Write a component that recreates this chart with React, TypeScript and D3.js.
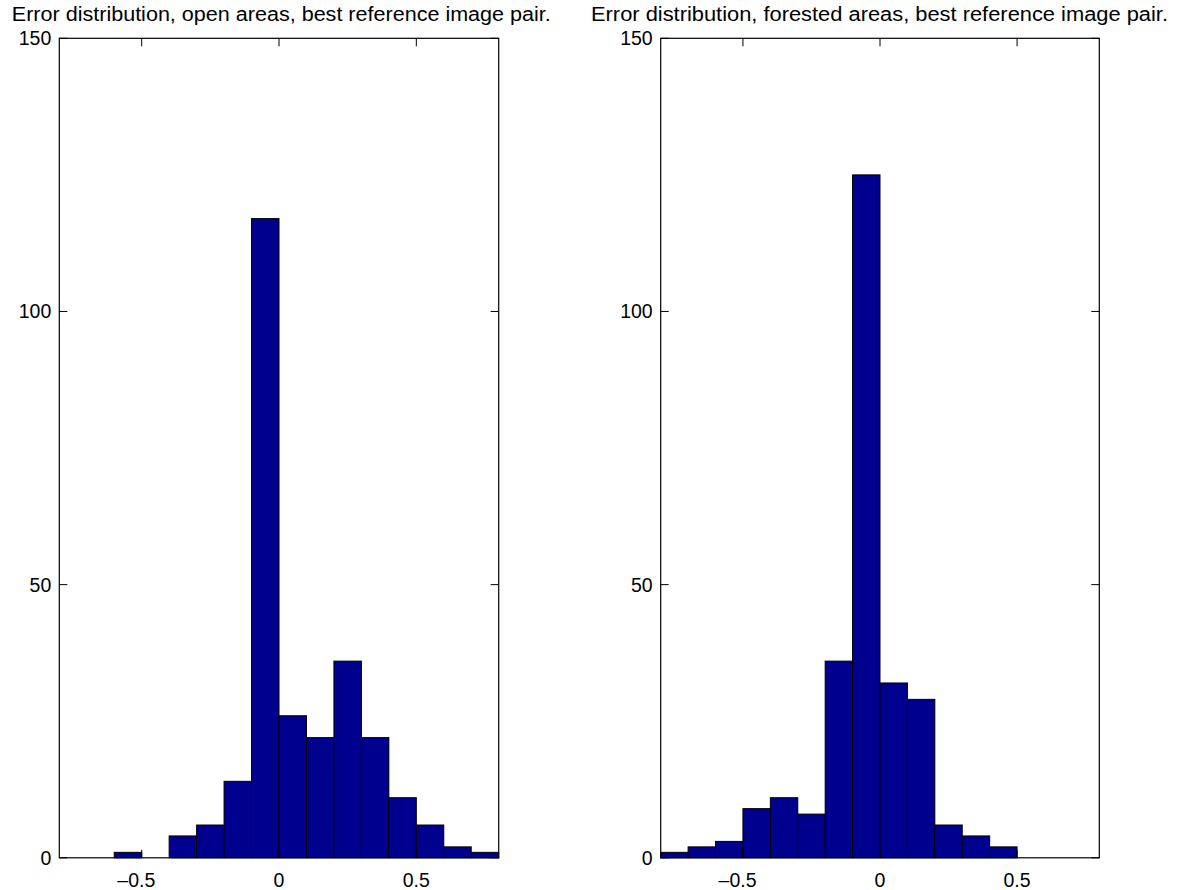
import React from "react";
import * as d3 from "d3";

// Histogram bins: lower edge of each 0.1-wide bin and its count
const binWidth = 0.1;
const openBinStarts = [-0.6, -0.5, -0.4, -0.3, -0.2, -0.1, 0, 0.1, 0.2, 0.3, 0.4, 0.5, 0.6, 0.7];
const openCounts = [1, 0, 4, 6, 14, 117, 26, 22, 36, 22, 11, 6, 2, 1];
const forestBinStarts = [-0.8, -0.7, -0.6, -0.5, -0.4, -0.3, -0.2, -0.1, 0, 0.1, 0.2, 0.3, 0.4];
const forestCounts = [1, 2, 3, 9, 11, 8, 36, 125, 32, 29, 6, 4, 2];

const xTicks = [-0.5, 0, 0.5];
const yTicks = [0, 50, 100, 150];
const xDomain: [number, number] = [-0.8, 0.8];
const yDomain: [number, number] = [0, 150];

const titles = [
  "Error distribution, open areas, best reference image pair.",
  "Error distribution, forested areas, best reference image pair.",
];

const W = 1184;
const H = 890;
const FONT = "'Liberation Sans', Arial, Helvetica, sans-serif";
const FS = 19.5;
const BAR_FILL = "#00008f";
const TICK = 8;

type PanelProps = {
  left: number;
  right: number;
  top: number;
  bottom: number;
  starts: number[];
  counts: number[];
  title: string;
  titleX: number;
  titleWidth: number;
};

function Panel({ left, right, top, bottom, starts, counts, title, titleX, titleWidth }: PanelProps) {
  const x = d3.scaleLinear().domain(xDomain).range([left, right]);
  const y = d3.scaleLinear().domain(yDomain).range([bottom, top]);
  // half width of a "0.5"-style label; the minus sign hangs to its left
  const absHalf = 0.695 * FS;
  return (
    <g>
      <text
        x={titleX}
        y={20.7}
        textAnchor="middle"
        fontFamily={FONT}
        fontSize={FS}
        textLength={titleWidth}
        lengthAdjust="spacingAndGlyphs"
        fill="#000"
      >
        {title}
      </text>
      {starts.map((s, i) =>
        counts[i] > 0 ? (
          <rect
            key={i}
            x={x(s)}
            y={y(counts[i])}
            width={x(s + binWidth) - x(s)}
            height={y(0) - y(counts[i])}
            fill={BAR_FILL}
            stroke="#000"
            strokeWidth={1}
          />
        ) : null
      )}
      <rect x={left} y={top} width={right - left} height={bottom - top} fill="none" stroke="#000" strokeWidth={1.2} />
      {xTicks.map((t) => (
        <g key={"x" + t}>
          <line x1={x(t)} x2={x(t)} y1={bottom} y2={bottom - TICK} stroke="#000" strokeWidth={1} />
          <line x1={x(t)} x2={x(t)} y1={top} y2={top + TICK} stroke="#000" strokeWidth={1} />
          {t < 0 ? (
            <text x={x(t) + absHalf} y={bottom + 28.7} textAnchor="end" fontFamily={FONT} fontSize={FS} fill="#000">
              {"\u2013" + String(Math.abs(t))}
            </text>
          ) : (
            <text x={x(t)} y={bottom + 28.7} textAnchor="middle" fontFamily={FONT} fontSize={FS} fill="#000">
              {String(t)}
            </text>
          )}
        </g>
      ))}
      {yTicks.map((t) => (
        <g key={"y" + t}>
          <line x1={left} x2={left + TICK} y1={y(t)} y2={y(t)} stroke="#000" strokeWidth={1} />
          <line x1={right} x2={right - TICK} y1={y(t)} y2={y(t)} stroke="#000" strokeWidth={1} />
          <text x={left - 8} y={y(t) + 7} textAnchor="end" fontFamily={FONT} fontSize={FS} fill="#000">
            {t}
          </text>
        </g>
      ))}
    </g>
  );
}

export default function App() {
  return (
    <svg
      width={W}
      height={H}
      viewBox={`0 0 ${W} ${H}`}
      style={{ position: "absolute", left: 0, top: 0, background: "#fff" }}
    >
      <rect x={0} y={0} width={W} height={H} fill="#fff" />
      <Panel
        left={59.3}
        right={498.7}
        top={38.3}
        bottom={857.8}
        starts={openBinStarts}
        counts={openCounts}
        title={titles[0]}
        titleX={281.3}
        titleWidth={539}
      />
      <Panel
        left={660.7}
        right={1099.3}
        top={38.3}
        bottom={857.8}
        starts={forestBinStarts}
        counts={forestCounts}
        title={titles[1]}
        titleX={879.5}
        titleWidth={577}
      />
    </svg>
  );
}
